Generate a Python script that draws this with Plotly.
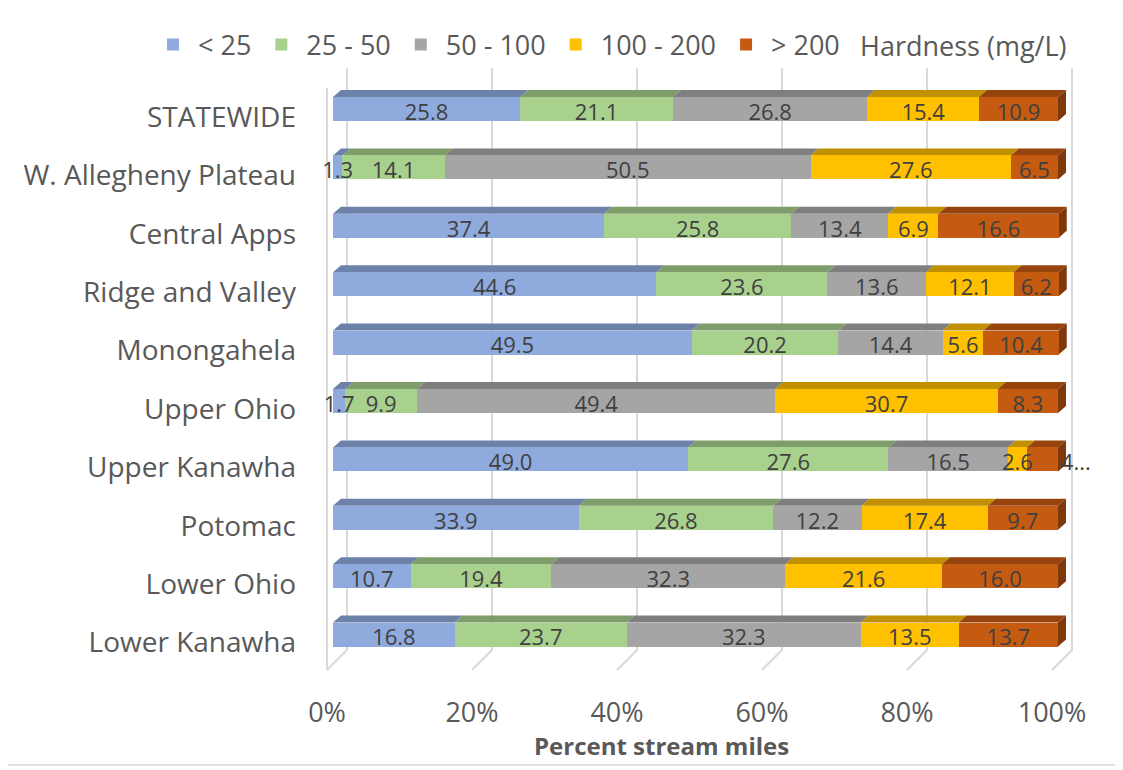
import plotly.graph_objects as go

# ---------------- data ----------------
regions = ["STATEWIDE", "W. Allegheny Plateau", "Central Apps", "Ridge and Valley",
           "Monongahela", "Upper Ohio", "Upper Kanawha", "Potomac", "Lower Ohio",
           "Lower Kanawha"]
series_names = ["< 25", "25 - 50", "50 - 100", "100 - 200", "> 200"]
lt25 = [25.8, 1.3, 37.4, 44.6, 49.5, 1.7, 49.0, 33.9, 10.7, 16.8]
r25_50 = [21.1, 14.1, 25.8, 23.6, 20.2, 9.9, 27.6, 26.8, 19.4, 23.7]
r50_100 = [26.8, 50.5, 13.4, 13.6, 14.4, 49.4, 16.5, 12.2, 32.3, 32.3]
r100_200 = [15.4, 27.6, 6.9, 12.1, 5.6, 30.7, 2.6, 17.4, 21.6, 13.5]
gt200 = [10.9, 6.5, 16.6, 6.2, 10.4, 8.3, 4.3, 9.7, 16.0, 13.7]
series_values = [lt25, r25_50, r50_100, r100_200, gt200]
x_ticks = [0, 20, 40, 60, 80, 100]
legend_title = "Hardness (mg/L)"
axis_title = "Percent stream miles"

# ---------------- styles ----------------
front_colors = ["#8FAADC", "#A9D18E", "#A5A5A5", "#FFC000", "#C55A11"]
top_colors = ["#6C82A8", "#7F9D6B", "#7F7F7F", "#C09000", "#96430D"]
side_color = "#7E380B"
grid_color = "#D9D9D9"
text_gray = "#595959"
label_gray = "#404040"
FONT = "Open Sans"

# pixel geometry (screen coordinates; the page body adds an 8px margin)
SCREEN_W, SCREEN_H = 1123, 770
OFF = 8
W, H = SCREEN_W - OFF, SCREEN_H - OFF
L, R, T, B = 300, 1090, 60, 690
X0PX, PXPER = 333.0, 7.25          # front plane: 0% at 333px, 7.25 px per %
Y0PX, ROWPX = 109.0, 58.4          # first row centre and row pitch
BARPX = 24.0
DXPX, DYPX = 8.0, 7.0              # depth of the bars
BACK_DX = 14.0                     # back wall offset
FRONT_DX = -6.0                    # floor front edge offset
GRID_TOP, FLOOR_BACK, FLOOR_FRONT = 68.0, 650.0, 670.0

x_range = [(L - X0PX) / PXPER, (R - X0PX) / PXPER]
y_range = [(B - Y0PX) / ROWPX, (T - Y0PX) / ROWPX]
bar_w = BARPX / ROWPX
ddx, ddy = DXPX / PXPER, DYPX / ROWPX


def ydat(px):
    return (px - Y0PX) / ROWPX


def paper_x(px):
    return (px - L) / (R - L)


def paper_y(px):
    return (B - px) / (B - T)


rows = list(range(len(regions)))
fig = go.Figure()

# front faces of the stacked bars
for k, (name, vals) in enumerate(zip(series_names, series_values)):
    fig.add_trace(go.Bar(
        name=name, orientation="h", y=rows, x=vals, width=bar_w,
        marker=dict(color=front_colors[k], line=dict(width=0)),
        hoverinfo="x+y+name",
    ))

# data labels (drawn on top so overflowing labels are not hidden)
lab_x, lab_y, lab_t, lab_pos = [], [], [], []
for i in rows:
    cum = 0.0
    for k, vals in enumerate(series_values):
        v = vals[i]
        if k == len(series_values) - 1 and v < 5:
            lab_x.append(cum + v + 0.35 * ddx)
            lab_t.append(f"{str(v)[0]}...")
            lab_pos.append("middle right")
        else:
            lab_x.append(cum + v / 2)
            lab_t.append(f"{v:.1f}")
            lab_pos.append("middle center")
        lab_y.append(i + 0.09)
        cum += v
fig.add_trace(go.Scatter(
    x=lab_x, y=lab_y, text=lab_t, mode="text", textposition=lab_pos,
    textfont=dict(family=FONT, size=22, color=label_gray),
    showlegend=False, hoverinfo="skip", cliponaxis=False,
))

shapes = []
# back wall gridlines + floor diagonals
for t in x_ticks:
    xb = t + BACK_DX / PXPER
    xf = t + FRONT_DX / PXPER
    shapes.append(dict(type="path", xref="x", yref="y", layer="below",
                       path=f"M{xb},{ydat(GRID_TOP)} L{xb},{ydat(FLOOR_BACK)} L{xf},{ydat(FLOOR_FRONT)}",
                       line=dict(color=grid_color, width=2)))
# left wall front edge
xf0 = FRONT_DX / PXPER
shapes.append(dict(type="line", xref="x", yref="y", layer="below",
                   x0=xf0, x1=xf0, y0=ydat(GRID_TOP + 20), y1=ydat(FLOOR_FRONT),
                   line=dict(color=grid_color, width=2)))

# 3D faces of the bars (top faces and right side face)
for i in rows:
    yt = i - bar_w / 2
    yb = i + bar_w / 2
    cum = 0.0
    for k, vals in enumerate(series_values):
        x0, x1 = cum, cum + vals[i]
        cum = x1
        shapes.append(dict(type="path", xref="x", yref="y", layer="below",
                           path=f"M{x0},{yt} L{x1},{yt} L{x1 + ddx},{yt - ddy} L{x0 + ddx},{yt - ddy} Z",
                           fillcolor=top_colors[k], line=dict(width=0)))
    shapes.append(dict(type="path", xref="x", yref="y", layer="below",
                       path=f"M{cum},{yt} L{cum + ddx},{yt - ddy} L{cum + ddx},{yb - ddy} L{cum},{yb} Z",
                       fillcolor=side_color, line=dict(width=0)))

# chart border (right and bottom edges visible)
shapes.append(dict(type="line", xref="paper", yref="paper",
                   x0=paper_x(1117), x1=paper_x(1117), y0=paper_y(OFF), y1=paper_y(765),
                   line=dict(color=grid_color, width=1.5)))
shapes.append(dict(type="line", xref="paper", yref="paper",
                   x0=paper_x(OFF), x1=paper_x(1117), y0=paper_y(765), y1=paper_y(765),
                   line=dict(color=grid_color, width=1.5)))

annotations = [
    dict(text=legend_title, xref="paper", yref="paper", x=paper_x(858), y=paper_y(45),
         xanchor="left", yanchor="middle", showarrow=False,
         font=dict(family=FONT, size=27, color=text_gray)),
    dict(text=f"<b>{axis_title}</b>", xref="paper", yref="paper", x=paper_x(661), y=paper_y(745),
         xanchor="center", yanchor="middle", showarrow=False,
         font=dict(family=FONT, size=24, color=text_gray)),
]

fig.update_layout(
    width=W, height=H,
    margin=dict(l=L - OFF, r=SCREEN_W - R, t=T - OFF, b=SCREEN_H - B, pad=0, autoexpand=False),
    barmode="stack", bargap=0,
    paper_bgcolor="white", plot_bgcolor="rgba(0,0,0,0)",
    font=dict(family=FONT, color=text_gray),
    showlegend=True,
    legend=dict(orientation="h", x=paper_x(148), y=paper_y(45), xanchor="left", yanchor="middle",
                font=dict(family=FONT, size=27, color=text_gray), itemwidth=40,
                traceorder="normal", bgcolor="rgba(0,0,0,0)"),
    shapes=shapes, annotations=annotations,
    xaxis=dict(range=x_range, tickvals=x_ticks, ticktext=[f"{t}%" for t in x_ticks],
               showgrid=False, zeroline=False, showline=False, ticks="", automargin=False,
               tickfont=dict(family=FONT, size=27, color=text_gray),
               ticklabelshift=-6, ticklabelstandoff=4, fixedrange=True),
    yaxis=dict(range=y_range, tickvals=rows, ticktext=regions,
               showgrid=False, zeroline=False, showline=False, ticks="", automargin=False,
               tickfont=dict(family=FONT, size=28, color=text_gray),
               ticklabelshift=-8, ticklabelstandoff=3, fixedrange=True),
)

fig.write_html("out.html")
